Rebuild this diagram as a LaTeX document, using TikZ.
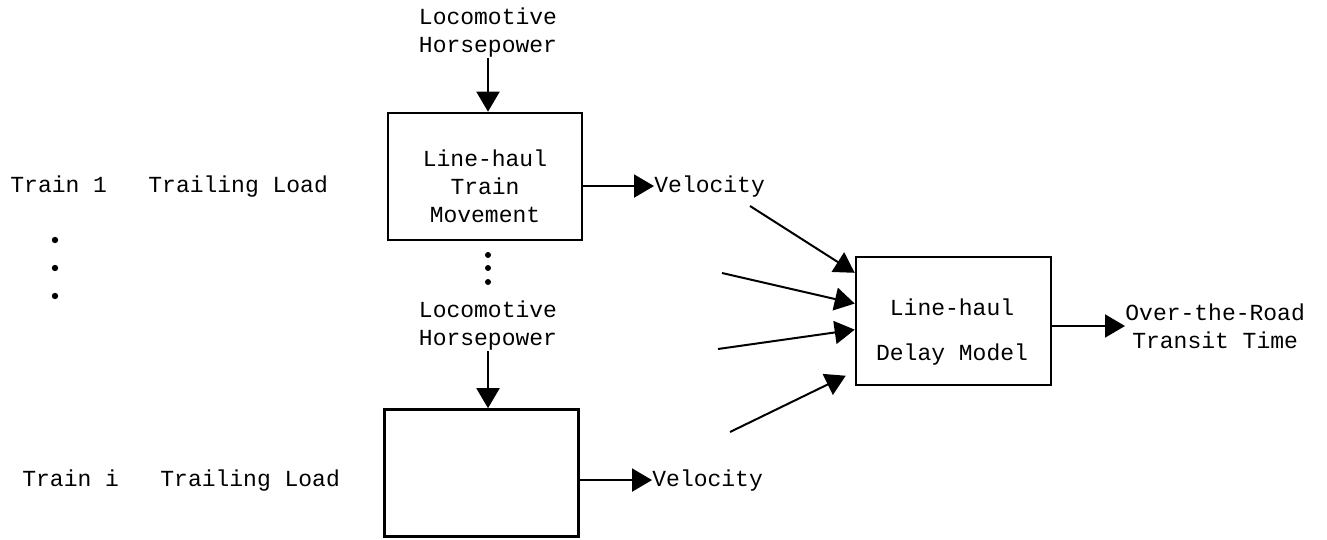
\documentclass[tikz,border=0pt]{standalone}
\usepackage{fontspec}
\setmonofont{Liberation Mono}
\usetikzlibrary{arrows.meta,positioning,calc}

\begin{document}
\begin{tikzpicture}[
    x=0.5pt, y=-0.5pt,
    every node/.style={font=\ttfamily\fontsize{11.5}{14}\selectfont, inner sep=0pt},
    blk/.style={draw, line width=1.3pt, minimum width=97pt, minimum height=63.5pt},
    lbl/.style={align=center},
    arr/.style={-{Triangle[length=10pt, width=11.5pt]}, line width=1pt}
]
  \useasboundingbox (0,0) rectangle (1327,540);

  % train movement blocks
  \node[blk] (tm1) at (485, 176.5) {};
  \node[blk] (tm2) at (481.5, 473) {};
  \node[lbl] (tm1t) at (485, 186) {Line-haul\\Train\\Movement};

  % delay model block
  \node[blk, minimum width=97.5pt, minimum height=64pt] (dm) at (953.5, 321) {};
  \node[lbl, font=\ttfamily\fontsize{11.5}{22.5}\selectfont] (dmt) at (952, 332) {Line-haul\\Delay Model};

  % inputs
  \node[lbl] (hp1) at (488, 33) {Locomotive\\Horsepower};
  \node[lbl] (hp2) at (488, 326) {Locomotive\\Horsepower};

  \node[anchor=base west] (tr1) at (10, 192) {Train 1};
  \node[anchor=base west] (tl1) at (148, 192) {Trailing Load};
  \node[anchor=base west] (tri) at (22, 486) {Train i};
  \node[anchor=base west] (tli) at (160, 486) {Trailing Load};

  % outputs
  \node[anchor=base west] (v1) at (654, 192) {Velocity};
  \node[anchor=base west] (v2) at (652, 486) {Velocity};
  \node[lbl, anchor=west] (ott) at (1125, 326) {Over-the-Road\\Transit Time};

  \draw[arr] (hp1.south) -- (hp1.south |- tm1.north);
  \draw[arr] (hp2.south) -- (hp2.south |- tm2.north);
  \draw[arr] (tm1.east |- v1.west) -- (v1.west);
  \draw[arr] (tm2.east |- v2.west) -- (v2.west);
  \draw[arr] (dm.east |- ott) -- (ott.west);

  % inputs to the delay model
  \coordinate (d1) at (750, 206);
  \coordinate (d2) at (722, 273);
  \coordinate (d3) at (718, 349);
  \coordinate (d4) at (730, 432);
  \draw[arr] (d1) -- (dm.154);
  \draw[arr] (d2) -- (dm.170);
  \draw[arr] (d3) -- (dm.185);
  \draw[arr, shorten >=5pt] (d4) -- (dm.207);

  % dots
  \foreach \y in {240, 268, 296}
    \fill (55, \y) circle (1.6pt);
  \foreach \y in {255, 268, 282}
    \fill (488, \y) circle (1.5pt);
\end{tikzpicture}
\end{document}
